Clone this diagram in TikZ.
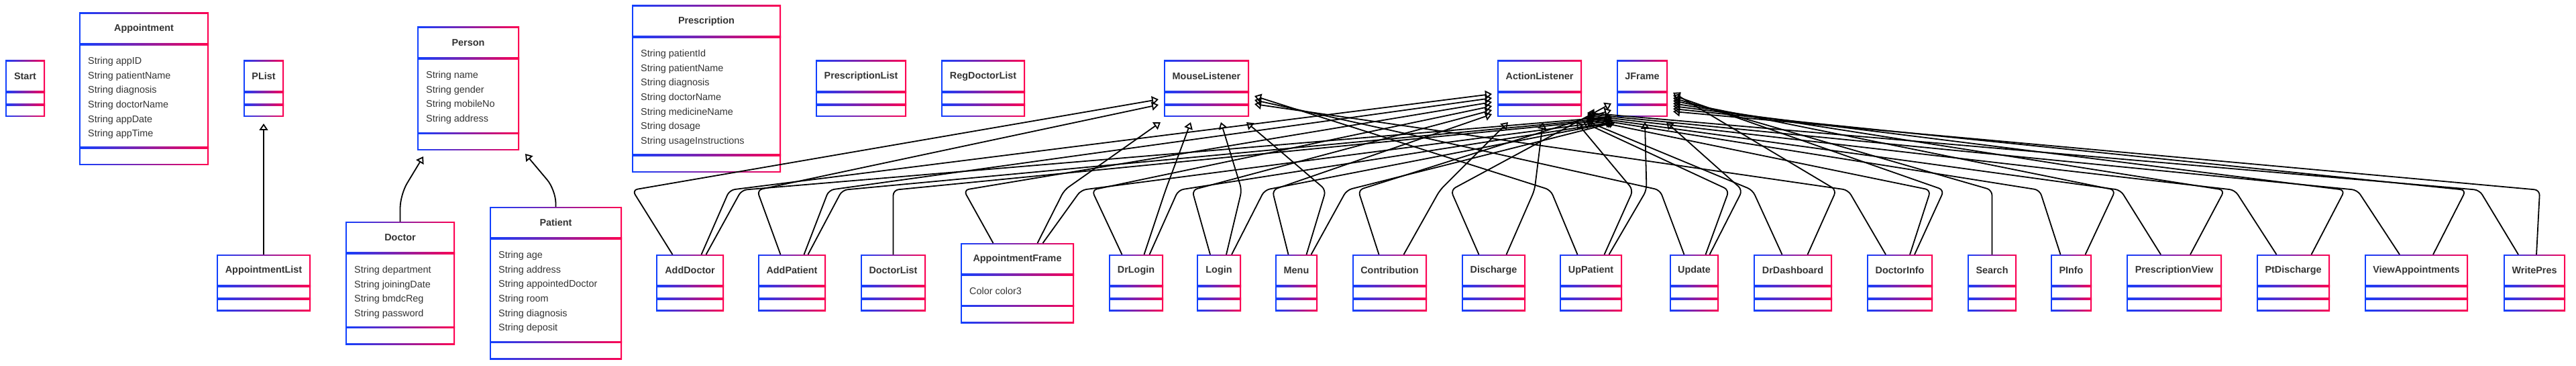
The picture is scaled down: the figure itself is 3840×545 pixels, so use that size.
\documentclass[tikz,border=0pt]{standalone}
\usepackage{fontspec}
\setmainfont{Liberation Sans}
\usepackage{xcolor}
\usetikzlibrary{arrows.meta,positioning}

\definecolor{umlblue}{RGB}{16,64,255}
\definecolor{umlred}{RGB}{255,0,80}
\definecolor{umltext}{RGB}{51,51,51}

\begin{document}
\begin{tikzpicture}[
    x=1pt, y=-1pt,
    every node/.style={font=\fontsize{14.4}{21.7}\selectfont, text=umltext},
    cls/.style={rectangle, anchor=north west, inner sep=0pt, outer sep=0pt, fill=white,
      path picture={
        \shade[left color=umlblue, right color=umlred]
          (path picture bounding box.south west) rectangle (path picture bounding box.north east);
        \fill[white]
          ([shift={(2.4pt,2.4pt)}]path picture bounding box.south west) rectangle
          ([shift={(-2.4pt,-2.4pt)}]path picture bounding box.north east);
        \shade[left color=umlblue, right color=umlred]
          ([yshift=-45.8pt]path picture bounding box.north west) rectangle
          ([yshift=-48.2pt]path picture bounding box.north east);
        \shade[left color=umlblue, right color=umlred]
          ([yshift=#1-1.2pt]path picture bounding box.south west) rectangle
          ([yshift=#1+1.2pt]path picture bounding box.south east);
      }},
    cls/.default=18pt,
    cname/.style={font=\fontsize{14.4}{21.7}\selectfont\bfseries, anchor=center, yshift=-23.5pt, inner sep=0pt},
    attrs/.style={align=left, inner sep=0pt},
    inh/.style={draw=black, line width=1.8pt, rounded corners=8pt, -{Triangle[open, length=10pt, width=13pt]}}
]
    \useasboundingbox (0,0) rectangle (3840,545);
    \coordinate (bl) at (0,283);

    % Empty classes, top row
    \foreach \n/\x/\w/\txt in {start/8/59/Start, plist/363/60/PList,
        preslist/1216/135/PrescriptionList, regdoclist/1403/125/RegDoctorList,
        ml/1735/127/MouseListener, al/2232/126/ActionListener, jf/2410/76/JFrame}
      \node[cls, minimum width=\w pt, minimum height=84pt, label={[cname]north:\txt}] (\n) at (\x,90) {};

    % Empty classes, bottom row
    \foreach \n/\x/\w/\txt in {applist/323/140/AppointmentList, adddoctor/978/101/AddDoctor,
        addpatient/1130/101/AddPatient, doctorlist/1283/97/DoctorList, drlogin/1653/81/DrLogin,
        login/1784/66/Login, menu/1901/63/Menu, contribution/2016/111/Contribution,
        discharge/2179/95/Discharge, uppatient/2325/93/UpPatient, update/2489/73/Update,
        drdashboard/2614/117/DrDashboard, doctorinfo/2783/98/DoctorInfo, search/2933/73/Search,
        pinfo/3057/61/PInfo, presview/3170/142/PrescriptionView, ptdischarge/3364/109/PtDischarge,
        viewapp/3525/154/ViewAppointments, writepres/3732/92/WritePres}
      \node[cls, minimum width=\w pt, minimum height=84pt, label={[cname]north:\txt}] (\n) at (\x,379) {};

    % Classes with attributes
    \node[cls=26pt, minimum width=193pt, minimum height=227pt, label={[cname]north:Appointment}] (appointment) at (118,19) {};
    \node[attrs, below right=65.7pt and 13pt of appointment.north west] (appointment-attr)
      {String appID\\String patientName\\String diagnosis\\String doctorName\\String appDate\\String appTime};

    \node[cls=25.5pt, minimum width=152pt, minimum height=184pt, label={[cname]north:Person}] (person) at (622,40) {};
    \node[attrs, below right=65.7pt and 13pt of person.north west] (person-attr)
      {String name\\String gender\\String mobileNo\\String address};

    \node[cls=26pt, minimum width=222pt, minimum height=249pt, label={[cname]north:Prescription}] (prescription) at (942,8) {};
    \node[attrs, below right=65.7pt and 13pt of prescription.north west] (prescription-attr)
      {String patientId\\String patientName\\String diagnosis\\String doctorName\\String medicineName\\String dosage\\String usageInstructions};

    \node[cls=25.5pt, minimum width=163pt, minimum height=183pt, label={[cname]north:Doctor}] (doctor) at (515,330) {};
    \node[attrs, below right=65.7pt and 13pt of doctor.north west] (doctor-attr)
      {String department\\String joiningDate\\String bmdcReg\\String password};

    \node[cls=25.5pt, minimum width=197pt, minimum height=227pt, label={[cname]north:Patient}] (patient) at (730,308) {};
    \node[attrs, below right=65.7pt and 13pt of patient.north west] (patient-attr)
      {String age\\String address\\String appointedDoctor\\String room\\String diagnosis\\String deposit};

    \node[cls=25.5pt, minimum width=169pt, minimum height=119pt, label={[cname]north:AppointmentFrame}] (appframe) at (1432,362) {};
    \node[attrs, below right=65.7pt and 13pt of appframe.north west] (appframe-attr) {Color color3};

    % Generalisation, left part
    \draw[inh] (applist.north) -- ([yshift=-10pt]plist.south);
    \draw[inh, rounded corners=20pt] (doctor.north) -- ([yshift=40pt]doctor.north) -- ([xshift=9pt,yshift=-9pt]person.south west);
    \draw[inh, rounded corners=20pt] (patient.north) -- ([yshift=25pt]patient.north) -- ([xshift=9pt,yshift=-5pt]person.south east);

    % Interfaces and JFrame
    \foreach \src/\ex/\bx/\tgt/\sx/\sy in {
        adddoctor/-26/-86/ml.west/-8/-16,
        addpatient/-17/-52/ml.west/-8/-24,
        appframe/30/70/ml.south west/-5/-8,
        drlogin/12/44/ml.south west/40/-8,
        login/11/34/ml.south west/85/-8,
        menu/15/44/ml.south west/123/-8,
        uppatient/-20/-60/ml.east/8/-11,
        update/-15/-51/ml.east/8/-17,
        doctorinfo/-21/-77/ml.east/8/-23,
        adddoctor/17/59/al.west/-8/-8,
        addpatient/18/55/al.west/-8/-14,
        appframe/-36/-80/al.west/-8/-20,
        drlogin/-21/-66/al.west/-8/-26,
        login/-13/-40/al.west/-8/-32,
        menu/-12/-36/al.west/-8/-38,
        contribution/21/75/al.south west/16/-8,
        discharge/19/61/al.south west/68/-8,
        uppatient/20/63/al.south west/118/-8,
        update/17/52/al.south east/2/-8,
        drdashboard/-16/-60/al.south east/6/-6,
        doctorinfo/15/46/al.south east/7/-4,
        pinfo/-16/-47/al.south east/8/-2,
        presview/-20/-80/al.south east/8/0,
        ptdischarge/-25/-87/al.south east/8/2,
        viewapp/-25/-88/al.south east/8/4,
        writepres/-24/-82/al.south east/8/6,
        adddoctor/24/77/jf.south west/-7/0,
        addpatient/24/75/jf.south west/-7/-2,
        doctorlist/0/0/jf.south west/-7/-4,
        appframe/38/95/jf.south west/-7/-6,
        drlogin/20/63/jf.south west/-6/-8,
        login/19/68/jf.south west/-4/-8,
        menu/22/75/jf.south west/-2/-8,
        contribution/-16/-47/jf.west/-8/-32,
        discharge/-22/-64/jf.west/-8/-22,
        uppatient/27/83/jf.south west/42/-8,
        update/23/72/jf.south west/74/-8,
        drdashboard/22/65/jf.east/8/-6,
        doctorinfo/22/66/jf.east/8/-10,
        search/0/0/jf.east/8/-14,
        pinfo/21/66/jf.east/8/-18,
        presview/24/75/jf.east/8/-22,
        ptdischarge/27/77/jf.east/8/-26,
        viewapp/25/74/jf.east/8/-30,
        writepres/3/8/jf.east/8/-34}
      \draw[inh] ([xshift=\ex pt]\src.north) -- ([xshift=\bx pt]\src.north |- bl) -- ([xshift=\sx pt, yshift=\sy pt]\tgt);
\end{tikzpicture}
\end{document}
